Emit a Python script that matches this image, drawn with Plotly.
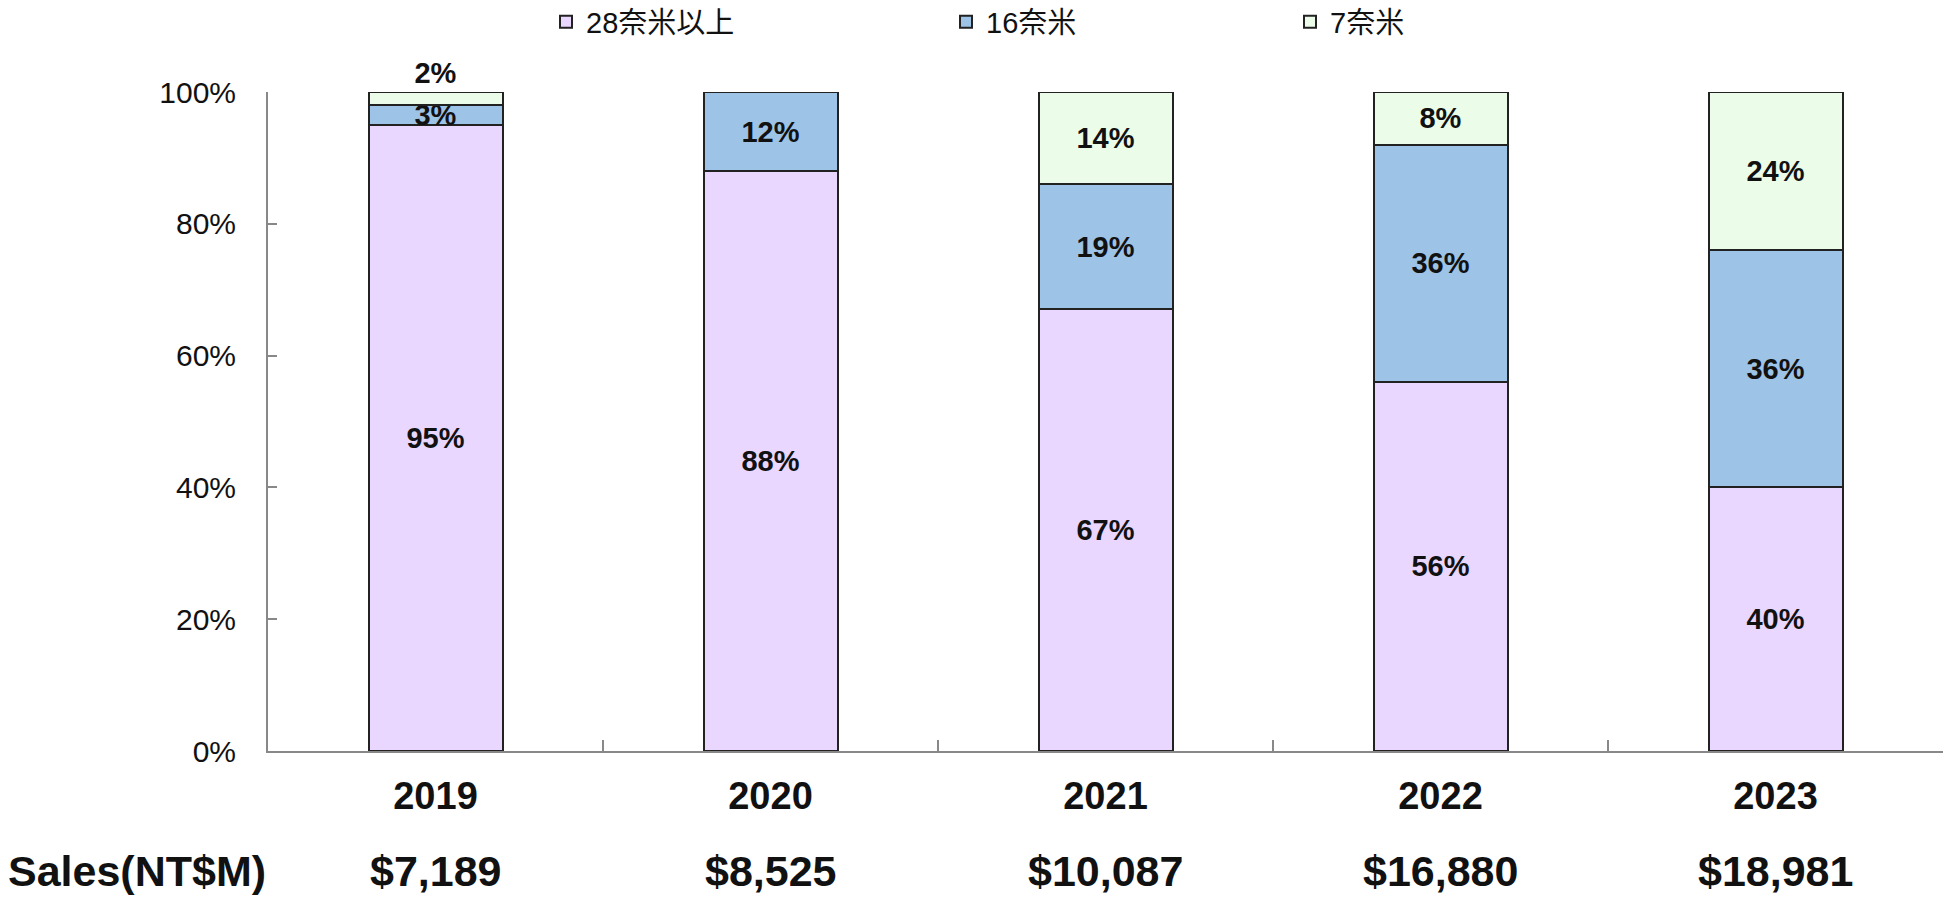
import plotly.graph_objects as go

years = ["2019", "2020", "2021", "2022", "2023"]
nm28 = [95, 88, 67, 56, 40]
nm16 = [3, 12, 19, 36, 36]
nm7 = [2, 0, 14, 8, 24]
sales = [7189, 8525, 10087, 16880, 18981]
series_names = ["28奈米以上", "16奈米", "7奈米"]
yticks = [0, 20, 40, 60, 80, 100]

colors = ["#E9D7FF", "#9DC3E6", "#EBFDE9"]
W, H = 1948, 898
L, R, T, B = 268, 5, 92, 147

FONT = "Liberation Sans, Arial, Noto Sans CJK TC, sans-serif"
LEGFONT = "Liberation Sans, Noto Sans CJK TC, sans-serif"

fig = go.Figure()
series = [nm28, nm16, nm7]
legends = ["legend", "legend2", "legend3"]
for i, (name, vals) in enumerate(zip(series_names, series)):
    texts = [f"{v}%" if v else "" for v in vals]
    if i == 2:
        pos = ["outside" if v < 4 else "inside" for v in vals]
    else:
        pos = ["inside"] * len(vals)
    fig.add_trace(go.Bar(
        x=years, y=vals, name=name, text=texts, textposition=pos,
        texttemplate="%{text}",
        marker=dict(color=colors[i], line=dict(color="#222222", width=2)),
        textfont=dict(family=FONT, size=29, color="#111111", weight="bold"),
        insidetextanchor="middle",
        cliponaxis=False,
        width=0.4,
        legend=legends[i],
        hoverinfo="skip",
    ))

fig.update_layout(
    width=W, height=H, barmode="stack",
    margin=dict(l=L, r=R, t=T, b=B, autoexpand=False),
    plot_bgcolor="white", paper_bgcolor="white",
    font=dict(family=FONT, color="#111111"),
    uniformtext=dict(minsize=29, mode="show"),
    showlegend=True,
)

leg_x = [546, 946, 1290]
for lg, lx in zip(legends, leg_x):
    fig.update_layout({lg: dict(
        xref="container", yref="container", x=lx / W, y=1 - 22 / H,
        xanchor="left", yanchor="middle", orientation="h",
        font=dict(family=LEGFONT, size=29, color="#111111"),
        bgcolor="rgba(0,0,0,0)", itemwidth=30,
    )})

fig.update_xaxes(
    type="category", categoryorder="array", categoryarray=years,
    range=[-0.5, len(years) - 0.5], autorange=False,
    showline=True, linecolor="#888888", linewidth=2,
    tickson="boundaries", ticks="inside", ticklen=11, tickcolor="#888888", tickwidth=1.5,
    tickfont=dict(family=FONT, size=38, color="#111111", weight="bold"),
    tickangle=0,
    ticklabelstandoff=10, showgrid=False, zeroline=False,
)
fig.update_yaxes(
    range=[0, 100], autorange=False, tickvals=yticks, ticktext=[f"{v}%" for v in yticks],
    showline=True, linecolor="#888888", linewidth=2,
    ticks="inside", ticklen=9, tickcolor="#888888", tickwidth=1.5,
    tickfont=dict(family=FONT, size=30, color="#111111"),
    ticklabelstandoff=24, showgrid=False, zeroline=False,
)

sales_y = -(871 - (H - B)) / (H - T - B)
fig.add_annotation(
    x=0, y=sales_y, xref="paper", yref="paper", text="Sales(NT$M)",
    xanchor="right", yanchor="middle", showarrow=False,
    font=dict(family=FONT, size=43, color="#111111", weight="bold"),
)
for idx, s in enumerate(sales):
    fig.add_annotation(
        x=idx, y=sales_y, xref="x", yref="paper", text=f"${s:,}",
        xanchor="center", yanchor="middle", showarrow=False,
        font=dict(family=FONT, size=43, color="#111111", weight="bold"),
    )

fig.write_html(
    "out.html",
    config={"displayModeBar": False},
    post_script="document.body.style.margin='0';document.body.style.overflow='hidden';",
)
